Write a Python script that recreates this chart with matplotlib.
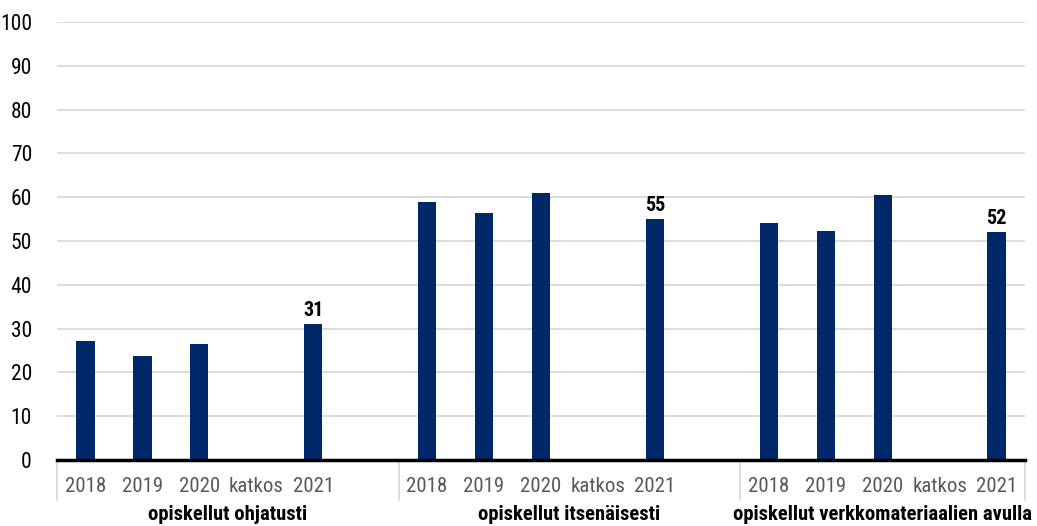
import matplotlib
matplotlib.use("Agg")
import matplotlib.pyplot as plt
from matplotlib import font_manager as fm
import matplotlib.transforms as mtrans

names = {f.name for f in fm.fontManager.ttflist}
prefs = ['Roboto Condensed', 'PT Sans Narrow', 'Fira Sans Condensed', 'Archivo Narrow',
         'Open Sans Condensed', 'Liberation Sans Narrow']
chosen = [p for p in prefs if p in names][:1]
plt.rcParams['font.family'] = chosen + ['DejaVu Sans']

groups = ['opiskellut ohjatusti', 'opiskellut itsenäisesti', 'opiskellut verkkomateriaalien avulla']
categories = [['2018', '2019', '2020', 'katkos', '2021', ''],
              ['2018', '2019', '2020', 'katkos', '2021', ''],
              ['2018', '2019', '2020', 'katkos', '2021']]
values = [[27.2, 23.7, 26.5, None, 31.0, None],
          [58.8, 56.4, 61.0, None, 55.0, None],
          [54.2, 52.3, 60.6, None, 52.0]]
labelled = '2021'
yticks = list(range(0, 101, 10))

BAR = '#002868'
fig = plt.figure(figsize=(10.37, 5.26), dpi=100)
ax = fig.add_axes([57/1037, 66/526, (1025-57)/1037, (460-22)/526])

trans = mtrans.blended_transform_factory(ax.transData, ax.transAxes)
pos = 0
starts = []
for g, (cats, vals) in enumerate(zip(categories, values)):
    starts.append(pos)
    for c, v in zip(cats, vals):
        if v is not None:
            ax.bar(pos, v, width=0.32, color=BAR, zorder=3)
            if c == labelled:
                ax.text(pos, v + 1.0, f"{v:.0f}", ha='center', va='bottom',
                        fontsize=14.5, fontweight='bold', color='black')
        if c:
            ax.text(pos, -0.073, c, transform=trans, ha='center', va='baseline',
                    fontsize=15, color='#595959')
        pos += 1
    center = (starts[-1] + pos - 1) / 2
    ax.text(center, -0.137, groups[g], transform=trans, ha='center', va='baseline',
            fontsize=14.9, fontweight='bold', color='black')
starts.append(pos)

ax.set_xlim(-0.5, pos - 0.5)
ax.set_ylim(0, 100)
ax.set_yticks(yticks)
ax.set_yticklabels([str(t) for t in yticks], fontsize=15.5)
ax.tick_params(axis='y', length=0, pad=18)
ax.set_xticks([])
ax.grid(axis='y', color='#d9d9d9', linewidth=1.3, zorder=0)
for s in ['left', 'right', 'top']:
    ax.spines[s].set_visible(False)
ax.spines['bottom'].set_linewidth(2.5)
ax.spines['bottom'].set_color('black')
ax.spines['bottom'].set_zorder(4)

for s in starts:
    ax.plot([s - 0.5, s - 0.5], [0, -0.092], transform=trans, color='#d9d9d9',
            linewidth=1.3, clip_on=False)

fig.savefig('out.png', dpi=100)
